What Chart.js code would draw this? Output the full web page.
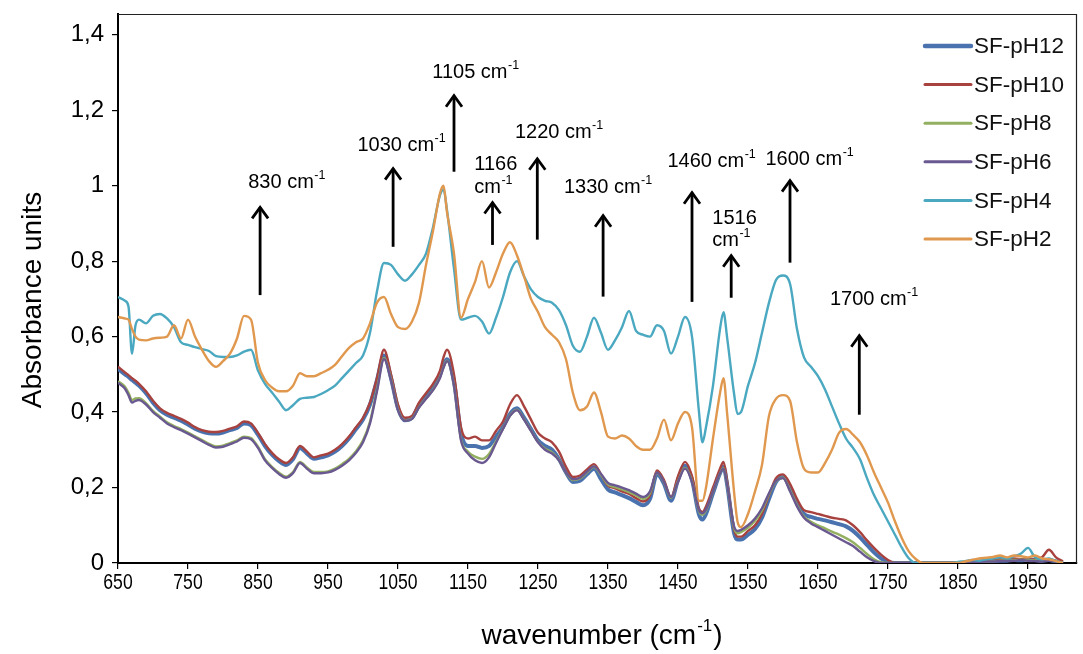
<!DOCTYPE html>
<html><head><meta charset="utf-8">
<script src="https://cdn.jsdelivr.net/npm/chart.js@4.4.1/dist/chart.umd.min.js"></script>
<style>html,body{margin:0;padding:0;background:#fff;}#wrap{width:1083px;height:654px;}</style>
</head><body><div id="wrap"><canvas id="c" width="1083" height="654"></canvas></div>
<script>
// ---- data ----
const wavenumbers = [
 650,660,665,670,675,680,690,
 700,710,720,730,740,750,760,770,780,790,
 800,810,820,830,840,850,860,870,880,890,
 900,910,920,930,940,950,960,970,980,990,
 1000,1010,1020,1030,1040,1050,1060,1070,1080,1090,
 1100,1110,1115,1120,1130,1140,1150,1160,1170,1180,1190,
 1200,1210,1220,1230,1240,1250,1260,1270,1280,1290,
 1300,1310,1320,1330,1340,1350,1360,1370,1380,1390,
 1400,1410,1420,1430,1440,1450,1460,1470,1480,1485,1490,
 1500,1510,1515,1520,1530,1535,1540,1550,1560,1570,1580,1590,
 1600,1610,1620,1630,1640,1650,1660,1670,1680,1690,
 1700,1710,1720,1730,1740,1750,1760,1770,1780,1790,
 1800,1810,1820,1830,1840,1850,1860,1870,1880,1890,
 1900,1910,1920,1930,1940,1950,1960,1970,1980,1990,2000
];
const sfPH12 = [
 0.515,0.50,0.493,0.485,0.478,0.47,0.45,
 0.425,0.405,0.393,0.385,0.377,0.367,0.356,0.348,0.344,0.343,
 0.346,0.352,0.358,0.37,0.365,0.34,0.31,0.287,0.27,0.26,
 0.275,0.305,0.29,0.276,0.28,0.285,0.295,0.31,0.33,0.355,
 0.38,0.42,0.485,0.55,0.49,0.41,0.378,0.385,0.418,0.44,
 0.465,0.50,0.525,0.54,0.48,0.345,0.31,0.31,0.305,0.31,0.335,
 0.36,0.395,0.41,0.385,0.355,0.325,0.31,0.30,0.275,0.24,
 0.215,0.218,0.235,0.25,0.222,0.195,0.187,0.18,0.172,0.162,
 0.153,0.17,0.235,0.21,0.165,0.22,0.258,0.22,0.128,0.115,0.13,
 0.185,0.238,0.255,0.21,0.08,0.062,0.062,0.075,0.09,0.12,0.17,0.215,
 0.228,0.2,0.16,0.13,0.122,0.117,0.113,0.108,0.103,0.097,
 0.085,0.068,0.048,0.028,0.012,0.002,0,0,0,0,
 0,0,0,0,0,0,0,0.002,0.003,0.004,
 0.005,0.006,0.006,0.008,0.007,0.01,0.008,0.006,0.008,0.004,0
];
const sfPH10 = [
 0.52,0.505,0.498,0.49,0.483,0.475,0.455,
 0.43,0.41,0.398,0.39,0.382,0.372,0.36,0.352,0.348,0.347,
 0.35,0.356,0.362,0.375,0.37,0.345,0.315,0.292,0.275,0.265,
 0.28,0.31,0.295,0.28,0.285,0.29,0.30,0.315,0.335,0.36,
 0.385,0.425,0.49,0.565,0.50,0.42,0.385,0.39,0.425,0.45,
 0.475,0.51,0.545,0.565,0.50,0.36,0.33,0.335,0.325,0.325,0.35,
 0.375,0.42,0.445,0.415,0.38,0.345,0.33,0.32,0.295,0.255,
 0.228,0.232,0.248,0.262,0.235,0.205,0.198,0.19,0.183,0.172,
 0.163,0.18,0.245,0.22,0.175,0.23,0.268,0.23,0.145,0.135,0.15,
 0.20,0.25,0.268,0.22,0.09,0.07,0.07,0.085,0.10,0.13,0.18,0.225,
 0.235,0.21,0.17,0.14,0.135,0.13,0.125,0.12,0.117,0.113,
 0.10,0.082,0.06,0.04,0.022,0.008,0,0,0,0,
 0,0,0,0,0,0,0.003,0.005,0.004,0.006,
 0.008,0.01,0.008,0.012,0.01,0.008,0.01,0.015,0.035,0.015,0.005
];
const sfPH8 = [
 0.482,0.467,0.451,0.432,0.436,0.437,0.424,
 0.403,0.388,0.373,0.363,0.355,0.346,0.336,0.326,0.316,0.309,
 0.311,0.318,0.325,0.335,0.331,0.308,0.275,0.255,0.239,0.229,
 0.241,0.268,0.253,0.241,0.241,0.243,0.25,0.262,0.276,0.296,
 0.325,0.375,0.46,0.543,0.488,0.407,0.378,0.383,0.413,0.436,
 0.459,0.492,0.519,0.536,0.472,0.328,0.295,0.282,0.276,0.289,0.322,
 0.356,0.391,0.406,0.381,0.351,0.321,0.303,0.293,0.273,0.24,
 0.22,0.224,0.24,0.255,0.233,0.208,0.201,0.195,0.188,0.179,
 0.17,0.185,0.239,0.214,0.173,0.217,0.252,0.217,0.137,0.128,0.139,
 0.189,0.238,0.251,0.21,0.094,0.079,0.082,0.094,0.112,0.139,0.182,0.217,
 0.226,0.193,0.153,0.123,0.109,0.1,0.092,0.083,0.075,0.066,
 0.055,0.04,0.024,0.01,0.002,0,0,0,0,0,
 0,0,0,0,0,0,0,0.002,0.003,0.004,
 0.005,0.006,0.007,0.008,0.009,0.008,0.007,0.006,0.01,0.005,0
];
const sfPH6 = [
 0.478,0.462,0.445,0.425,0.43,0.432,0.42,
 0.40,0.385,0.37,0.36,0.352,0.343,0.333,0.323,0.313,0.306,
 0.308,0.315,0.322,0.332,0.328,0.305,0.272,0.252,0.236,0.226,
 0.238,0.265,0.25,0.238,0.238,0.24,0.247,0.258,0.272,0.292,
 0.32,0.37,0.455,0.54,0.485,0.405,0.377,0.382,0.412,0.435,
 0.458,0.49,0.518,0.535,0.47,0.325,0.29,0.272,0.265,0.28,0.318,
 0.355,0.39,0.405,0.38,0.35,0.32,0.30,0.29,0.272,0.24,
 0.222,0.226,0.242,0.256,0.236,0.212,0.206,0.20,0.193,0.184,
 0.175,0.19,0.24,0.215,0.175,0.215,0.25,0.215,0.14,0.132,0.142,
 0.19,0.238,0.25,0.21,0.098,0.085,0.088,0.10,0.118,0.145,0.185,0.218,
 0.225,0.19,0.15,0.12,0.105,0.095,0.085,0.075,0.065,0.055,
 0.045,0.03,0.015,0.005,0,0,0,0,0,0,
 0,0,0,0,0,0,0,0.002,0.003,0.004,
 0.004,0.005,0.006,0.006,0.008,0.006,0.005,0.004,0.006,0.003,0
];
const sfPH4 = [
 0.705,0.695,0.68,0.555,0.63,0.645,0.635,
 0.655,0.66,0.648,0.625,0.585,0.578,0.572,0.567,0.562,0.548,
 0.546,0.546,0.55,0.56,0.565,0.51,0.475,0.452,0.428,0.405,
 0.418,0.435,0.438,0.44,0.448,0.458,0.47,0.49,0.51,0.53,
 0.55,0.61,0.72,0.795,0.79,0.765,0.748,0.765,0.79,0.82,
 0.89,0.975,0.99,0.935,0.78,0.645,0.65,0.655,0.64,0.608,0.65,
 0.705,0.77,0.80,0.76,0.725,0.705,0.695,0.69,0.67,0.63,
 0.575,0.56,0.60,0.65,0.61,0.565,0.59,0.625,0.668,0.615,
 0.605,0.60,0.63,0.615,0.555,0.60,0.652,0.60,0.40,0.32,0.36,
 0.47,0.62,0.665,0.60,0.45,0.395,0.40,0.47,0.53,0.61,0.69,0.75,
 0.762,0.74,0.62,0.545,0.52,0.495,0.46,0.415,0.37,0.33,
 0.305,0.275,0.225,0.18,0.145,0.11,0.075,0.04,0.012,0,
 0,0,0,0,0,0.003,0.005,0.008,0.006,0.01,
 0.012,0.015,0.012,0.018,0.025,0.04,0.015,0.01,0.012,0.005,0
];
const sfPH2 = [
 0.652,0.648,0.645,0.62,0.60,0.592,0.59,
 0.595,0.597,0.60,0.63,0.595,0.645,0.60,0.565,0.535,0.52,
 0.535,0.555,0.595,0.655,0.645,0.53,0.485,0.465,0.455,0.455,
 0.47,0.503,0.495,0.495,0.503,0.512,0.525,0.548,0.57,0.585,
 0.595,0.635,0.69,0.705,0.66,0.625,0.62,0.64,0.69,0.79,
 0.88,0.98,1.0,0.93,0.82,0.65,0.70,0.745,0.80,0.73,0.77,
 0.82,0.85,0.815,0.76,0.70,0.665,0.625,0.605,0.585,0.54,
 0.45,0.405,0.415,0.452,0.40,0.335,0.33,0.338,0.33,0.31,
 0.30,0.30,0.33,0.38,0.325,0.37,0.40,0.36,0.165,0.165,0.20,
 0.33,0.45,0.49,0.40,0.19,0.11,0.095,0.13,0.19,0.26,0.39,0.435,
 0.445,0.43,0.32,0.25,0.24,0.24,0.265,0.30,0.345,0.355,
 0.34,0.32,0.285,0.24,0.20,0.16,0.11,0.065,0.03,0.01,
 0,0,0,0,0,0,0.004,0.008,0.012,0.014,
 0.016,0.02,0.015,0.02,0.018,0.015,0.02,0.012,0.01,0.005,0
];
const seriesNames = ['SF-pH12','SF-pH10','SF-pH8','SF-pH6','SF-pH4','SF-pH2'];
const seriesValues = [sfPH12, sfPH10, sfPH8, sfPH6, sfPH4, sfPH2];
const xTicks = [650,750,850,950,1050,1150,1250,1350,1450,1550,1650,1750,1850,1950];
const yTicks = [0,0.2,0.4,0.6,0.8,1,1.2,1.4];
const yTickLabels = ['0','0,2','0,4','0,6','0,8','1','1,2','1,4'];
// peak annotations: arrow at wavenumber, from/to absorbance; label lines [text, superscript, y]
const peakMarks = [
 {wn:853,  from:0.71,  to:0.945, lx:836,  lines:[['830 cm','-1',1.008]]},
 {wn:1043, from:0.838, to:1.048, lx:992,  lines:[['1030 cm','-1',1.106]]},
 {wn:1130, from:1.037, to:1.241, lx:1099, lines:[['1105 cm','-1',1.30]]},
 {wn:1185, from:0.843, to:0.958, lx:1159, lines:[['1166','',1.056],['cm','-1',0.995]]},
 {wn:1249, from:0.857, to:1.074, lx:1217, lines:[['1220 cm','-1',1.141]]},
 {wn:1343, from:0.706, to:0.923, lx:1287, lines:[['1330 cm','-1',0.995]]},
 {wn:1470, from:0.692, to:0.984, lx:1435, lines:[['1460 cm','-1',1.064]]},
 {wn:1526, from:0.703, to:0.817, lx:1499, lines:[['1516','',0.912],['cm','-1',0.854]]},
 {wn:1610, from:0.796, to:1.016, lx:1575, lines:[['1600 cm','-1',1.069]]},
 {wn:1709, from:0.393, to:0.605, lx:1667, lines:[['1700 cm','-1',0.698]]}
];

seriesValues.forEach((s,i)=>{ if(s.length!==wavenumbers.length) throw new Error(seriesNames[i]+' length '+s.length+' vs '+wavenumbers.length); });

// ---- styles ----
const colors = ['#4a72ae','#a8423f','#93b060','#6a5890','#4aa8c0','#e0984e'];
const widths = [4,2.4,2.4,2.4,2.4,2.4];
const FONT = "'Liberation Sans', Arial, sans-serif";

const datasets = seriesNames.map((n,i)=>({
  label:n,
  data: wavenumbers.map((w,k)=>({x:w, y:seriesValues[i][k]})),
  borderColor: colors[i], borderWidth: widths[i], pointRadius:0,
  cubicInterpolationMode:'monotone', fill:false,
  order: 6-i
}));

function drawSupText(ctx, x, y, main, sup, size, supSize){
  ctx.textAlign='left'; ctx.textBaseline='middle';
  ctx.font = size+'px '+FONT;
  const w1 = ctx.measureText(main).width;
  ctx.fillText(main, x, y);
  if(sup){ ctx.font = supSize+'px '+FONT; ctx.fillText(sup, x+w1+0.5, y - size*0.36); }
}

const decor = {
  id:'decor',
  afterDraw(chart){
    const ctx = chart.ctx, xs = chart.scales.x, ys = chart.scales.y, a = chart.chartArea;
    ctx.save();
    // frame (top/right)
    ctx.strokeStyle='#222'; ctx.lineWidth=1.2;
    ctx.beginPath(); ctx.moveTo(a.left, a.top+0.5); ctx.lineTo(a.right-0.5, a.top+0.5); ctx.lineTo(a.right-0.5, a.bottom); ctx.stroke();
    // x tick labels (condensed)
    ctx.fillStyle='#000'; ctx.textAlign='center'; ctx.textBaseline='middle';
    xTicks.forEach(v=>{
      const px = xs.getPixelForValue(v);
      ctx.save(); ctx.translate(px, 583); ctx.scale(0.8, 1);
      ctx.font='22px '+FONT; ctx.fillText(String(v), 0, 0); ctx.restore();
    });
    // annotations
    ctx.fillStyle='#000'; ctx.strokeStyle='#000';
    peakMarks.forEach(p=>{
      const x = xs.getPixelForValue(p.wn), y0 = ys.getPixelForValue(p.from), y1 = ys.getPixelForValue(p.to);
      ctx.lineWidth=2.8; ctx.lineCap='butt'; ctx.lineJoin='miter';
      ctx.beginPath(); ctx.moveTo(x,y0); ctx.lineTo(x,y1+1); ctx.stroke();
      ctx.beginPath(); ctx.moveTo(x-8,y1+12); ctx.lineTo(x,y1+1); ctx.lineTo(x+8,y1+12); ctx.stroke();
      const lx = xs.getPixelForValue(p.lx);
      p.lines.forEach(l=>{ drawSupText(ctx, lx, ys.getPixelForValue(l[2]), l[0], l[1], 20, 12.5); });
    });
    // legend
    seriesNames.forEach((n,i)=>{
      const y = 46 + i*38.6;
      ctx.strokeStyle = colors[i]; ctx.lineWidth = i===0?4.5:3; ctx.lineCap='round';
      ctx.beginPath(); ctx.moveTo(925,y); ctx.lineTo(971,y); ctx.stroke();
      ctx.fillStyle='#111'; ctx.font='22.5px '+FONT; ctx.textAlign='left'; ctx.textBaseline='middle';
      ctx.fillText(n, 974, y+1);
    });
    // axis titles
    ctx.fillStyle='#000';
    ctx.save(); ctx.translate(33, 300); ctx.rotate(-Math.PI/2);
    ctx.font='28px '+FONT; ctx.textAlign='center'; ctx.textBaseline='middle';
    ctx.fillText('Absorbance units', 0, 0); ctx.restore();
    ctx.font='28px '+FONT;
    const t1='wavenumber (cm', t3=')';
    const w1=ctx.measureText(t1).width, w3=ctx.measureText(t3).width;
    ctx.font='17px '+FONT; const w2=ctx.measureText('-1').width;
    let sx = 601 - (w1+w2+w3)/2, ty = 636;
    ctx.textAlign='left'; ctx.textBaseline='middle';
    ctx.font='28px '+FONT; ctx.fillText(t1, sx, ty);
    ctx.font='17px '+FONT; ctx.fillText('-1', sx+w1+1, ty-10);
    ctx.font='28px '+FONT; ctx.fillText(t3, sx+w1+w2+2, ty);
    ctx.restore();
  }
};

new Chart(document.getElementById('c'), {
  type:'line',
  data:{datasets},
  options:{
    responsive:false, animation:false,
    layout:{padding:{left:0,right:6,top:14,bottom:0}},
    plugins:{legend:{display:false}, tooltip:{enabled:false}},
    scales:{
      x:{type:'linear', min:650, max:2020,
         afterBuildTicks:s=>{ s.ticks = xTicks.map(v=>({value:v})); },
         afterFit:s=>{ s.height = 91; s.paddingLeft = 0; s.paddingRight = 0; },
         ticks:{display:false},
         grid:{drawOnChartArea:false, drawTicks:true, tickLength:6, color:'#000', lineWidth:1.2},
         border:{color:'#000', width:2}},
      y:{type:'linear', min:0, max:1.455,
         afterBuildTicks:s=>{ s.ticks = yTicks.map(v=>({value:v})); },
         afterFit:s=>{ s.width = 118; s.paddingTop = 0; s.paddingBottom = 0; },
         ticks:{color:'#000', padding:8, font:{family:FONT, size:24},
                callback:v=>{ const i=yTicks.indexOf(v); return i>=0?yTickLabels[i]:''; }},
         grid:{drawOnChartArea:false, drawTicks:true, tickLength:6, color:'#000', lineWidth:1.2},
         border:{color:'#000', width:2}}
    }
  },
  plugins:[decor]
});
</script></body></html>
